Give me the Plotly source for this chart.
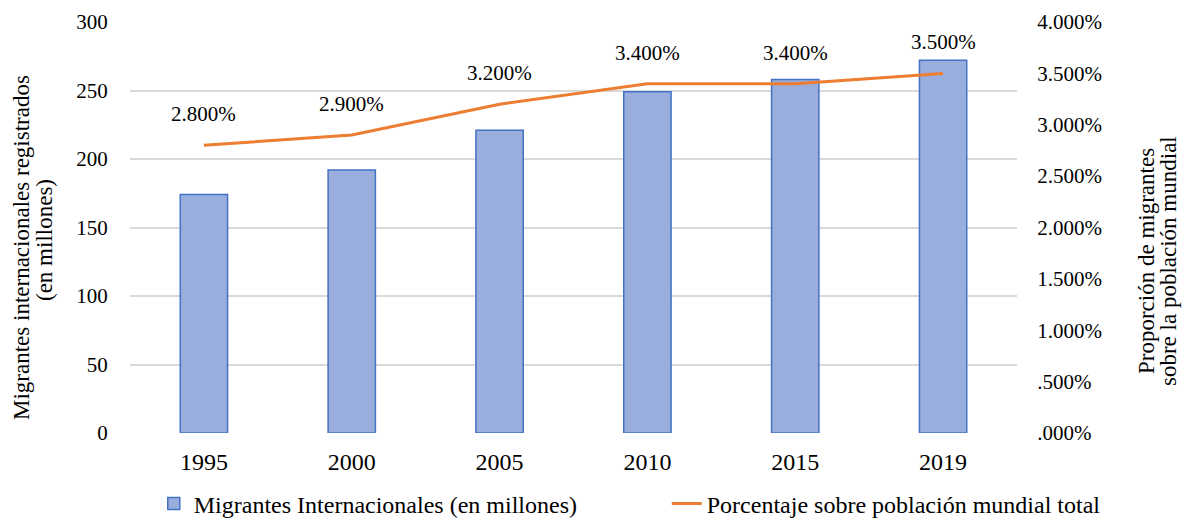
import plotly.graph_objects as go

years = ["1995", "2000", "2005", "2010", "2015", "2019"]
migrants = [174, 192, 221, 249, 258, 272]
share = [2.8, 2.9, 3.2, 3.4, 3.4, 3.5]
share_labels = ["2.800%", "2.900%", "3.200%", "3.400%", "3.400%", "3.500%"]
right_tickvals = [0, 0.5, 1.0, 1.5, 2.0, 2.5, 3.0, 3.5, 4.0]
right_ticktext = [".000%", ".500%", "1.000%", "1.500%", "2.000%", "2.500%", "3.000%", "3.500%", "4.000%"]
left_title_lines = ["Migrantes internacionales registrados", "(en millones)"]
right_title_lines = ["Proporción de migrantes", "sobre la población mundial"]

FONT = "Times New Roman"
BLACK = "#000000"
PL, PR, PT, PB = 130, 165, 22, 88
W, H = 1182, 521
pw, ph = W - PL - PR, H - PT - PB


def px_to_paper(xp, yp):
    return (xp - PL) / pw, (H - PB - yp) / ph


fig = go.Figure()
fig.add_trace(go.Bar(
    x=years, y=migrants, name="Migrantes Internacionales (en millones)",
    marker=dict(color="#9AAEDE", line=dict(color="#4472C4", width=1.5)),
    width=0.32,
))
fig.add_trace(go.Scatter(
    x=years, y=share, name="Porcentaje sobre población mundial total",
    mode="lines", line=dict(color="#ED7D31", width=3), yaxis="y2",
))
# data labels (x given as category index so the category axis is not extended)
for i, (v, t) in enumerate(zip(share, share_labels)):
    fig.add_annotation(x=i, y=v, xref="x", yref="y2", text=t, showarrow=False,
                       yshift=31, font=dict(family=FONT, size=21, color=BLACK))

# axis titles, one annotation per line (tight line spacing like the original)
title_pos = [(21, 248), (44, 240), (1146, 261), (1168, 261)]
for text, (xp, yp) in zip(left_title_lines + right_title_lines, title_pos):
    xf, yf = px_to_paper(xp, yp)
    fig.add_annotation(x=xf, y=yf, xref="paper", yref="paper", text=text,
                       showarrow=False, textangle=-90, xanchor="center", yanchor="middle",
                       font=dict(family=FONT, size=23, color=BLACK))

fig.update_layout(
    width=W, height=H,
    margin=dict(l=PL, r=PR, t=PT, b=PB, autoexpand=False),
    paper_bgcolor="white", plot_bgcolor="white",
    font=dict(family=FONT, color=BLACK, size=20),
    showlegend=True,
    legend=dict(orientation="h", x=1.1835, xanchor="right", y=-0.118, yanchor="top",
                font=dict(family=FONT, size=24, color=BLACK), traceorder="normal",
                entrywidth=468, entrywidthmode="pixels"),
    xaxis=dict(type="category", categoryorder="array", categoryarray=years,
               range=[-0.5, 5.5], showgrid=False, showline=False, ticks="outside",
               ticklen=7, tickcolor="rgba(0,0,0,0)", automargin=False,
               tickfont=dict(family=FONT, size=24, color=BLACK)),
    yaxis=dict(range=[0, 300], dtick=50, showgrid=True, gridcolor="#D9D9D9",
               gridwidth=1.5, zeroline=False, showline=False,
               tickfont=dict(family=FONT, size=21, color=BLACK),
               ticks="outside", ticklen=17, tickcolor="rgba(0,0,0,0)", automargin=False),
    yaxis2=dict(range=[0, 4], overlaying="y", side="right", showgrid=False,
                zeroline=False, showline=False, tickvals=right_tickvals,
                ticktext=right_ticktext, automargin=False,
                tickfont=dict(family=FONT, size=21, color=BLACK),
                ticks="outside", ticklen=15, tickcolor="rgba(0,0,0,0)"),
)

fig.write_html("out.html")
